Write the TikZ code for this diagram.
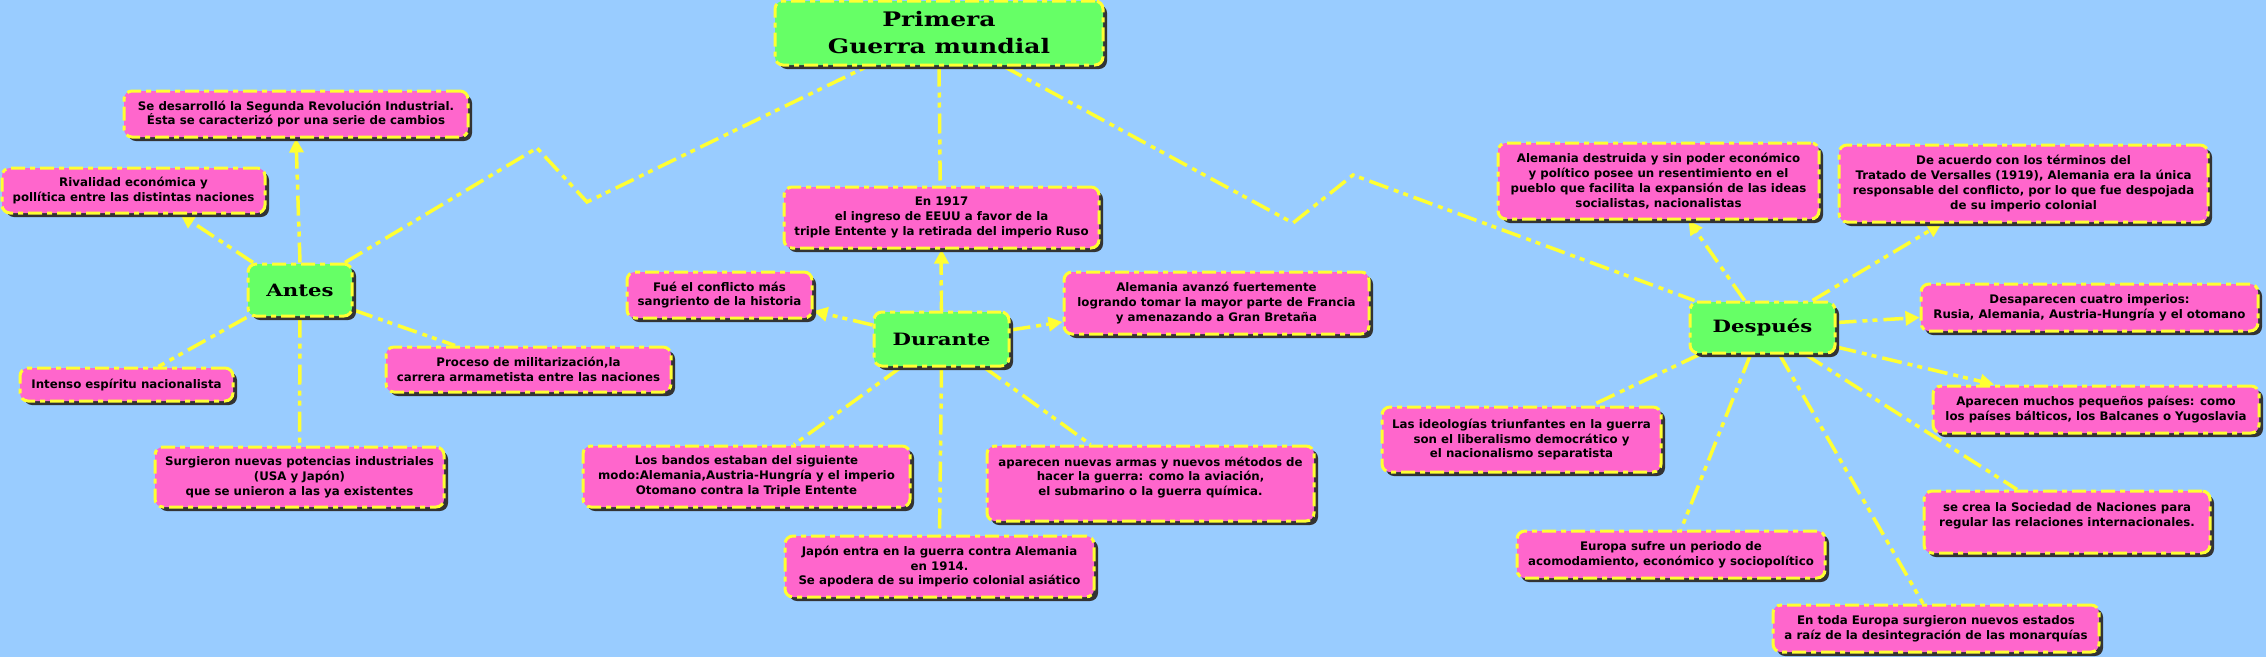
\documentclass[tikz,border=0pt]{standalone}
\usepackage{fontspec}
\setmainfont{DejaVu Sans}
\newfontfamily\bodyf{DejaVu Sans}
\newfontfamily\titlef{DejaVu Serif}[FakeStretch=1.25]
\usetikzlibrary{arrows.meta,shadows}
\definecolor{bgc}{HTML}{99CCFF}
\definecolor{pinkc}{HTML}{FF66CC}
\definecolor{greenc}{HTML}{66FF66}
\definecolor{yelc}{HTML}{FFFF33}
\definecolor{shadc}{HTML}{333333}
\pgfdeclarelayer{bg}
\pgfdeclarelayer{lines}
\pgfsetlayers{bg,lines,main}
\tikzset{
  x=1pt, y=-1pt,
  boxbase/.style={draw=yelc, line width=3pt,
    dash pattern=on 14pt off 5pt on 5pt off 5pt,
    rounded corners=8pt, inner sep=0pt, align=center, text=black,
    drop shadow={shadow xshift=4pt, shadow yshift=-4pt, fill=shadc, opacity=1}},
  pbox/.style={boxbase, fill=pinkc, font=\bodyf\bfseries\fontsize{11.8}{14.8}\selectfont},
  gbox/.style={boxbase, fill=greenc, font=\titlef\bfseries\fontsize{17}{20}\selectfont},
  tbox/.style={boxbase, fill=greenc, font=\titlef\bfseries\fontsize{20}{27}\selectfont},
  conn/.style={draw=yelc, line width=3.5pt,
    dash pattern=on 20pt off 6pt on 5pt off 5pt on 5pt off 6pt},
  arr/.style={conn, -{Triangle[length=14pt,width=14pt]}},
}
\begin{document}
\begin{tikzpicture}
\useasboundingbox (0,0) rectangle (2266,657);
\begin{pgfonlayer}{bg}
\fill[bgc] (0,0) rectangle (2266,657);
\end{pgfonlayer}

% title
\node[tbox, minimum width=328pt, minimum height=64pt] (title) at (939,33) {Primera\\Guerra mundial};

% Antes
\node[gbox, minimum width=104pt, minimum height=52pt] (antes) at (300,290) {Antes};
\node[pbox, minimum width=344pt, minimum height=46pt] (sedes) at (296,114) {Se desarrolló la Segunda Revolución Industrial.\\ Ésta se caracterizó por una serie de cambios};
\node[pbox, minimum width=263pt, minimum height=45pt] (rival) at (133.5,190.5) {Rivalidad económica y\\ pollítica entre las distintas naciones};
\node[pbox, minimum width=213pt, minimum height=33pt] (intenso) at (126.5,384.5) {Intenso espíritu nacionalista};
\node[pbox, minimum width=285pt, minimum height=45pt] (proceso) at (528.5,369.5) {Proceso de militarización,la\\ carrera armametista entre las naciones};
\node[pbox, minimum width=289pt, minimum height=60pt] (surg) at (299.5,477) {Surgieron nuevas potencias industriales\\ (USA y Japón)\\ que se unieron a las ya existentes};

% Durante
\node[gbox, minimum width=135pt, minimum height=54pt] (durante) at (941.5,339) {Durante};
\node[pbox, minimum width=315pt, minimum height=61pt] (en1917) at (941.5,217.5) {En 1917\\ el ingreso de EEUU a favor de la\\ triple Entente y la retirada del imperio Ruso};
\node[pbox, minimum width=185pt, minimum height=46pt] (fue) at (719.5,295) {Fué el conflicto más\\ sangriento de la historia};
\node[pbox, minimum width=305pt, minimum height=62pt] (aleman) at (1216.5,303) {Alemania avanzó fuertemente\\ logrando tomar la mayor parte de Francia\\ y amenazando a Gran Bretaña};
\node[pbox, minimum width=327pt, minimum height=61pt] (bandos) at (746.5,476.5) {Los bandos estaban del siguiente\\ modo:Alemania,Austria-Hungría y el imperio\\ Otomano contra la Triple Entente};
\node[pbox, minimum width=327pt, minimum height=75pt] (aparecen) at (1150.5,483.5) {aparecen nuevas armas y nuevos métodos de\\ hacer la guerra: como la aviación,\\ el submarino o la guerra química.\\ ~};
\node[pbox, minimum width=309pt, minimum height=61pt] (japon) at (939.5,566.5) {Japón entra en la guerra contra Alemania\\ en 1914.\\ Se apodera de su imperio colonial asiático};

% Despues
\node[gbox, minimum width=145pt, minimum height=51pt] (despues) at (1762.5,327.5) {Después};
\node[pbox, minimum width=321pt, minimum height=76pt] (alemdest) at (1658.5,181) {Alemania destruida y sin poder económico\\ y político posee un resentimiento en el\\ pueblo que facilita la expansión de las ideas\\ socialistas, nacionalistas};
\node[pbox, minimum width=369pt, minimum height=77pt] (deacuerdo) at (2023.5,183.5) {De acuerdo con los términos del\\ Tratado de Versalles (1919), Alemania era la única\\ responsable del conflicto, por lo que fue despojada\\ de su imperio colonial};
\node[pbox, minimum width=337pt, minimum height=47pt] (desap) at (2089.5,307.5) {Desaparecen cuatro imperios:\\ Rusia, Alemania, Austria-Hungría y el otomano};
\node[pbox, minimum width=326pt, minimum height=47pt] (pequenos) at (2096,409.5) {Aparecen muchos pequeños países: como\\ los países bálticos, los Balcanes o Yugoslavia};
\node[pbox, minimum width=279pt, minimum height=65pt] (ideol) at (1521.5,439.5) {Las ideologías triunfantes en la guerra\\ son el liberalismo democrático y\\ el nacionalismo separatista};
\node[pbox, minimum width=286pt, minimum height=62pt] (secrea) at (2067,522) {se crea la Sociedad de Naciones para\\ regular las relaciones internacionales.\\ ~};
\node[pbox, minimum width=308pt, minimum height=47pt] (europa) at (1671,554.5) {Europa sufre un periodo de\\ acomodamiento, económico y sociopolítico};
\node[pbox, minimum width=326pt, minimum height=47pt] (entoda) at (1936,628.5) {En toda Europa surgieron nuevos estados\\ a raíz de la desintegración de las monarquías};

\begin{pgfonlayer}{lines}
% title links
\coordinate (zl1) at (587,202);
\coordinate (zl2) at (537,148);
\coordinate (zr1) at (1293,223);
\coordinate (zr2) at (1353,175);
\draw[conn] ([xshift=45pt]antes.north) -- (zl2) -- (zl1) -- ([xshift=-72pt]title.south);
\draw[conn] (title.south) -- (durante.north);
\draw[conn] ([xshift=65pt]title.south) -- (zr1) -- (zr2) -- ([xshift=-68pt]despues.north);
% Antes
\draw[arr] ([xshift=-47pt]antes.north) -- ([xshift=47pt]rival.south);
\draw[arr] (antes.north) -- (sedes.south);
\draw[conn] (antes.south west) -- ([xshift=32pt]intenso.north);
\draw[conn] (antes.south) -- (surg.north);
\draw[conn] ([yshift=-20pt]antes.east) -- ([xshift=-73.5pt]proceso.north);
% Durante
\draw[arr] (durante.north) -- (en1917.south);
\draw[arr] ([yshift=14pt]durante.west) -- ([yshift=-16pt]fue.east);
\draw[arr] ([yshift=9pt]durante.east) -- ([yshift=-19pt]aleman.west);
\draw[conn] ([xshift=-41pt]durante.south) -- ([xshift=47.5pt]bandos.north);
\draw[conn] (durante.south) -- (japon.north);
\draw[conn] ([xshift=43pt]durante.south) -- ([xshift=-60pt]aparecen.north);
% Despues
\draw[arr] ([xshift=-18pt]despues.north) -- ([xshift=30pt]alemdest.south);
\draw[arr] ([xshift=50pt]despues.north) -- ([xshift=-82pt]deacuerdo.south);
\draw[arr] ([yshift=5pt]despues.east) -- ([yshift=-10pt]desap.west);
\draw[arr] ([yshift=-19.5pt]despues.east) -- ([xshift=-102pt]pequenos.north);
\draw[conn] ([xshift=-63pt]despues.south) -- ([xshift=70pt]ideol.north);
\draw[conn] ([xshift=-12pt]despues.south) -- ([xshift=10pt]europa.north);
\draw[conn] ([xshift=17pt]despues.south) -- ([xshift=-13pt]entoda.north);
\draw[conn] ([xshift=43pt]despues.south) -- ([xshift=-50pt]secrea.north);
\end{pgfonlayer}
\end{tikzpicture}
\end{document}
